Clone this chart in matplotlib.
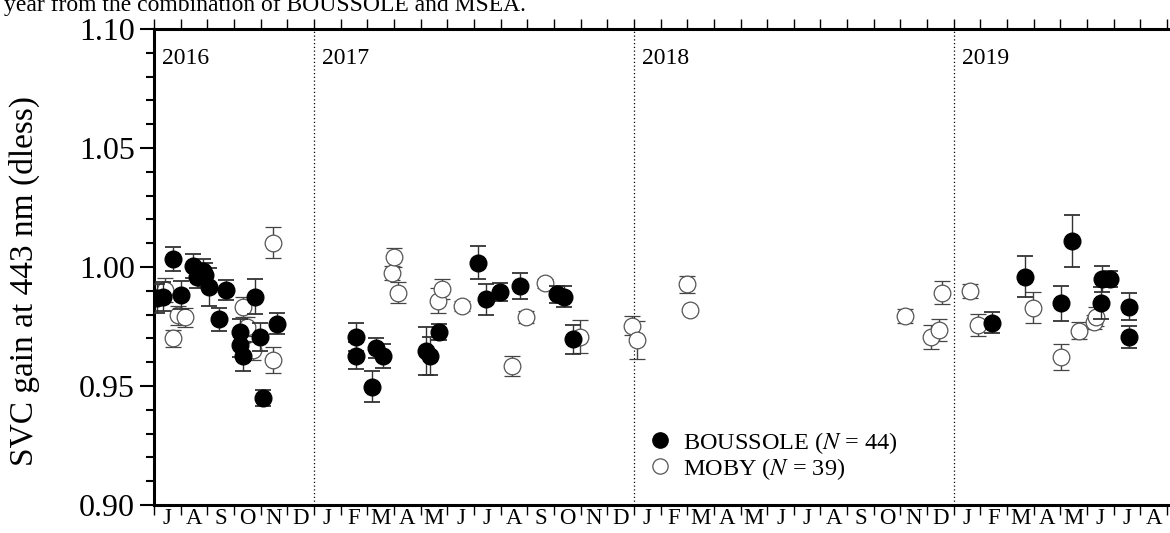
import matplotlib
matplotlib.use("Agg")
import matplotlib.pyplot as plt
from matplotlib.lines import Line2D
import numpy as np

plt.rcParams['font.family'] = ['Liberation Serif', 'DejaVu Serif']
plt.rcParams['mathtext.fontset'] = 'stix'

# x = months elapsed since 1 July 2016
bous_x = [0.10, 0.33, 0.72, 1.00, 1.47, 1.60, 1.83, 1.91, 2.07, 2.44, 2.70,
          3.22, 3.22, 3.35, 3.79, 3.98, 4.10, 4.60,
          7.56, 7.56, 8.16, 8.31, 8.60, 10.20, 10.35, 10.69, 12.14, 12.47,
          12.97, 13.72, 15.10, 15.37, 15.70,
          31.43, 32.66, 34.04, 34.44, 35.51, 35.56, 35.85, 36.57, 36.57]
bous_y = [0.9868, 0.9875, 1.0032, 0.9882, 1.0004, 0.9960, 0.9985, 0.9966, 0.9917, 0.9780, 0.9904,
          0.9728, 0.9672, 0.9624, 0.9875, 0.9705, 0.9450, 0.9762,
          0.9705, 0.9627, 0.9497, 0.9658, 0.9626, 0.9648, 0.9627, 0.9726, 1.0018, 0.9864,
          0.9894, 0.9920, 0.9885, 0.9875, 0.9696,
          0.9766, 0.9959, 0.9847, 1.0109, 0.9850, 0.9950, 0.9950, 0.9834, 0.9705]
bous_e = [0.006, 0.006, 0.005, 0.006, 0.005, 0.005, 0.005, 0.005, 0.008, 0.0048, 0.0043,
          0.0055, 0.005, 0.006, 0.0073, 0.006, 0.0035, 0.0045,
          0.006, 0.0056, 0.0066, 0.0042, 0.005, 0.010, 0.008, 0.0034, 0.0069, 0.0065,
          0.0037, 0.0056, 0.0037, 0.0045, 0.006,
          0.0044, 0.0086, 0.0073, 0.0109, 0.0067, 0.0054, 0.0035, 0.0055, 0.0047]

moby_x = [0.41, 0.70, 0.91, 1.16, 3.35, 3.47, 3.72, 4.45, 4.45,
          8.92, 9.01, 9.14, 10.66, 10.79, 11.55, 13.41, 13.95, 14.68, 15.97,
          17.93, 18.13, 20.00, 20.12, 28.16, 29.14, 29.46, 29.57,
          30.62, 30.91, 32.97, 34.01, 34.70, 35.25, 35.35]
moby_y = [0.9903, 0.9700, 0.9798, 0.9789, 0.9832, 0.9750, 0.9650, 0.9610, 1.0102,
          0.9974, 1.0041, 0.9892, 0.9858, 0.9906, 0.9836, 0.9585, 0.9791, 0.9931, 0.9707,
          0.9753, 0.9693, 0.9927, 0.9819, 0.9794, 0.9707, 0.9735, 0.9892,
          0.9899, 0.9756, 0.9829, 0.9621, 0.9733, 0.9770, 0.9791]
moby_e = [0.005, 0.0037, 0.004, 0.004, 0.004, 0.004, 0.004, 0.0055, 0.0065,
          0.003, 0.0039, 0.0043, 0.0053, 0.0042, 0.002, 0.0042, 0.0025, 0.002, 0.007,
          0.004, 0.008, 0.0035, 0.001, 0.003, 0.005, 0.0048, 0.0048,
          0.003, 0.0045, 0.0064, 0.0054, 0.0034, 0.003, 0.004]

month_labels = (list("JASOND") + list("JFMAMJJASOND") * 2 + list("JFMAMJJA"))
years = ["2016", "2017", "2018", "2019"]
year_start = [0, 6, 18, 30]

fig = plt.figure(figsize=(11.7, 5.33), dpi=100)
ax = fig.add_axes([154/1170, 1 - 505/533, 1 - 154/1170, (505 - 29)/533])

ax.errorbar(moby_x, moby_y, yerr=moby_e, fmt='o', ms=12, mfc='white', mec='#555555',
            mew=0.9, ecolor='#444444', elinewidth=1.0, capsize=6, capthick=1.3, zorder=3)
ax.errorbar(bous_x, bous_y, yerr=bous_e, fmt='o', ms=12, mfc='black', mec='black',
            ecolor='#333333', elinewidth=1.0, capsize=6, capthick=1.3, zorder=4)

for xs in year_start[1:]:
    ax.axvline(xs, color='black', ls=(0, (1, 2)), lw=0.9, zorder=1)
for yr, xs in zip(years, year_start):
    ax.text(xs + 0.3, 1.0877, yr, fontsize=17, va='center', ha='left')

ax.set_xlim(0, 38.11)
ax.set_ylim(0.90, 1.10)
ax.set_xticks(np.arange(0, 39))
ax.set_xticklabels([])
ax.set_xticks(np.arange(len(month_labels)) + 0.5, minor=True)
ax.set_xticklabels(month_labels, minor=True, fontsize=16.5)
ax.tick_params(axis='x', which='major', direction='out', length=7, width=1.0,
               top=True, bottom=True)
ax.tick_params(axis='x', which='minor', length=0, pad=2)
ax.set_yticks([0.90, 0.95, 1.00, 1.05, 1.10])
ax.set_yticklabels(['0.90', '0.95', '1.00', '1.05', '1.10'], fontsize=23)
ax.set_yticks(np.arange(0.90, 1.1001, 0.01), minor=True)
ax.tick_params(axis='y', which='major', direction='out', length=10, width=1.5)
ax.tick_params(axis='y', which='minor', direction='out', length=6, width=1.5)
ax.set_ylabel('SVC gain at 443 nm (dless)', fontsize=24)
ax.yaxis.set_label_coords(-0.112, 0.47)

for s in ['left', 'bottom', 'top']:
    ax.spines[s].set_linewidth(2.2)
ax.spines['right'].set_visible(False)

handles = [Line2D([], [], ls='none', marker='o', ms=11, mfc='black', mec='black'),
           Line2D([], [], ls='none', marker='o', ms=11, mfc='white', mec='#555555', mew=0.9)]
labels = [r'BOUSSOLE ($N$ = 44)', r'MOBY ($N$ = 39)']
ax.legend(handles, labels, loc='upper left', bbox_to_anchor=(0.486, 0.158),
          frameon=False, fontsize=17.5, handletextpad=0.45, borderaxespad=0,
          labelspacing=0.0, handlelength=1.0, borderpad=0)

fig.text(0.003, 1 - 11/533, 'year from the combination of BOUSSOLE and MSEA.',
         fontsize=17, va='baseline', ha='left')

fig.savefig('out.png', dpi=100)
